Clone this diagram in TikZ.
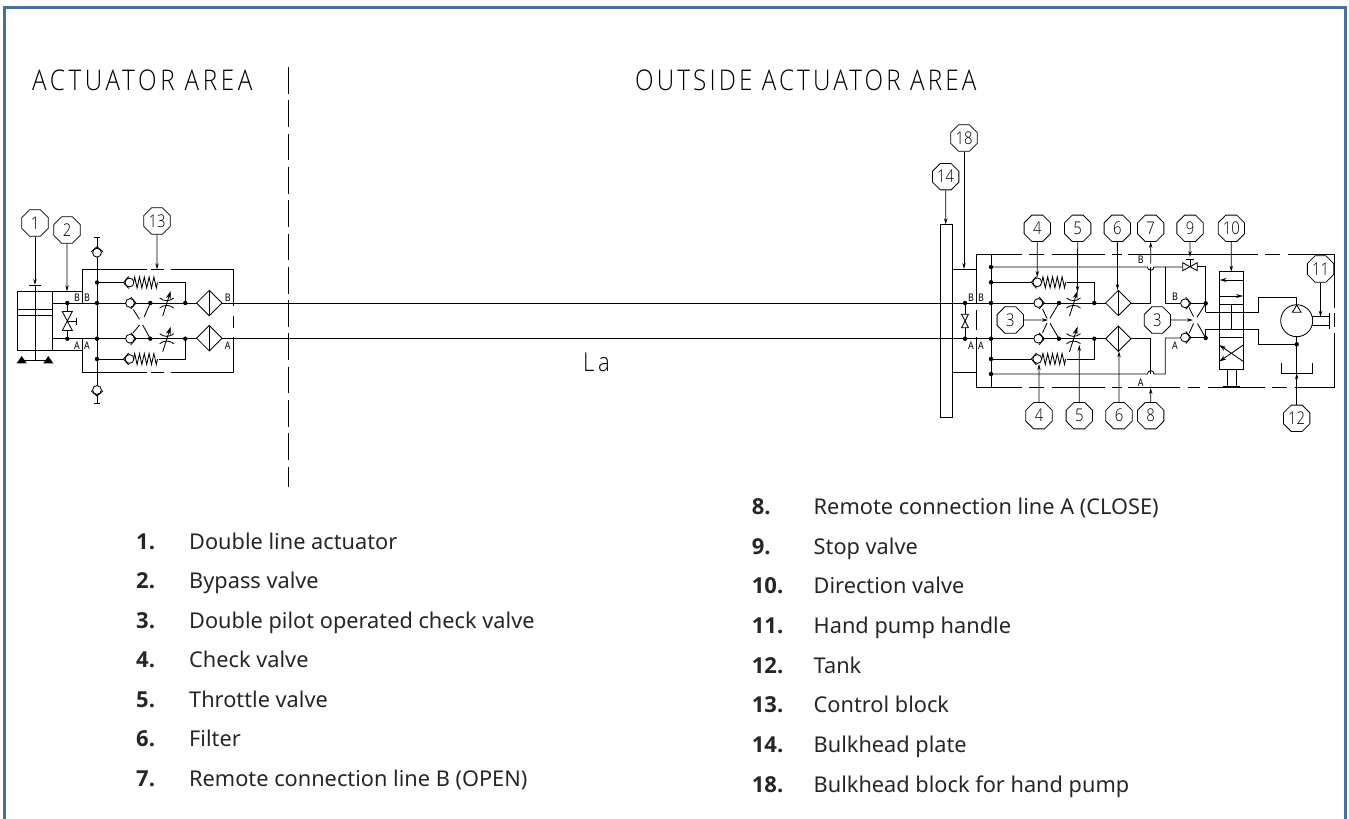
\documentclass[tikz,border=0pt]{standalone}
\usepackage{fontspec}
\setmainfont{Noto Sans}
\newfontfamily\numf{Open Sans}
\newfontfamily\iso[FakeStretch=0.85]{Open Sans Light}
\usetikzlibrary{arrows.meta,shapes.geometric}
\definecolor{frameblue}{HTML}{4A6F9A}
\definecolor{listink}{HTML}{262626}
\tikzset{
  ln/.style={line width=0.85pt,black,line cap=butt},
  lead/.style={line width=0.8pt,black,-{Stealth[length=6pt,width=3.4pt]}},
  ball/.style={regular polygon,regular polygon sides=8,draw,line width=0.8pt,minimum size=28.5pt,inner sep=0pt,fill=white,font=\iso\fontsize{17.5}{17.5}\selectfont},
  tag/.style={font=\addfontfeature{FakeStretch=0.85}\fontsize{10.5}{10.5}\selectfont,inner sep=0pt},
  head/.style={font=\iso\fontsize{28.5}{28.5}\selectfont,anchor=base west,inner sep=0pt},
  item/.style={font=\fontsize{21.75}{24}\selectfont,anchor=base west,inner sep=0pt,text=listink},
  itemnum/.style={font=\numf\bfseries\fontsize{22}{24}\selectfont,anchor=base west,inner sep=0pt,text=listink},
}
\newcommand{\balloon}[4]{\node[ball] (#1) at (#2,#3) {#4};}
\newcommand{\jn}[2]{\fill (#1,#2) circle (2.2pt);}
\newcommand{\chk}[3]{\begin{scope}[shift={(#1,#2)},rotate=#3]
  \draw[ln,fill=white] (0,0) circle (4.4);
  \draw[ln] (0.8,-6) -- (6,0) -- (0.8,6);
\end{scope}}
\newcommand{\spr}[2]{\draw[ln,line join=miter] (#1,#2) -- ++(1.2,-5.5) -- ++(2.4,11) -- ++(2.4,-11) -- ++(2.4,11) -- ++(2.4,-11) -- ++(2.4,11) -- ++(2.4,-11) -- ++(2.4,11) -- ++(2.4,-11) -- ++(2.4,11) -- ++(1.2,-5.5);}
\newcommand{\thr}[2]{\begin{scope}[shift={(#1,#2)}]
  \draw[ln] (-7,-5) .. controls (-3,-1.5) and (3,-1.5) .. (7,-5);
  \draw[ln] (-7,5) .. controls (-3,1.5) and (3,1.5) .. (7,5);
  \draw[ln,-{Stealth[length=8pt,width=5pt]}] (-4,13) -- (4,-12);
\end{scope}}
\newcommand{\flt}[2]{\begin{scope}[shift={(#1,#2)}]
  \draw[ln,fill=white] (-12.7,0) -- (0,-12.7) -- (12.7,0) -- (0,12.7) -- cycle;
  \draw[ln] (0,-12.7) -- (0,12.7);
\end{scope}}
\newcommand{\vbow}[4]{\draw[ln,fill=white] (#1-#4,#2-#3) -- (#1+#4,#2-#3) -- (#1-#4,#2+#3) -- (#1+#4,#2+#3) -- cycle;}
\begin{document}
\begin{tikzpicture}[x=1pt,y=-1pt]
\useasboundingbox (0,0) rectangle (1349,819);
% frame
\draw[line width=3pt,frameblue] (4.5,818.5) -- (4.5,7) -- (1345,7) -- (1345,818.5);
% headings
\node[head] (h1) at (32,90.5) {\addfontfeature{LetterSpace=12.8}ACTUATOR AREA};
\node[head] (h2) at (635,90.5) {\addfontfeature{LetterSpace=11}OUTSIDE ACTUATOR AREA};
\node[head,font=\iso\fontsize{26}{26}\selectfont] (la) at (583,371) {\addfontfeature{LetterSpace=14}La};
\draw[line width=0.9pt,dash pattern=on 26.7pt off 6.6pt] (288.3,67) -- (288.3,487);
% main lines
\draw[ln] (52.7,303) -- (1105.6,303);
\draw[ln] (52.7,338.7) -- (1105.6,338.7);

%%% LEFT: actuator
\draw[ln] (17.3,291.3) rectangle (52.7,350.3);
\draw[ln] (17.3,309) -- (52.7,309) (17.3,315) -- (52.7,315);
\draw[ln] (35,285) -- (35,360) (29,285) -- (41,285);
\fill (16.7,363.3) -- (21.7,356) -- (26.7,363.3) -- cycle;
\fill (43.3,363.3) -- (48.3,356) -- (53.3,363.3) -- cycle;
\draw[ln] (21.7,360) -- (48.3,360);
\draw[ln] (52.7,291.3) -- (82.3,291.3) (52.7,350.3) -- (82.3,350.3);
% bypass
\draw[ln] (67.3,303) -- (67.3,338.7);
\vbow{67.3}{321}{9.5}{5}
\draw[ln] (67.3,321) -- (76.7,321) (76.7,317.5) -- (76.7,324.5);
\jn{67.3}{303}\jn{67.3}{338.7}
% control block
\draw[ln] (146.7,269.3) -- (82.3,269.3) -- (82.3,304);
\draw[ln] (82.3,337.7) -- (82.3,372.3) -- (146.7,372.3);
\draw[ln] (150.7,269.3) -- (164,269.3) (170.7,269.3) -- (233.3,269.3) -- (233.3,306);
\draw[ln] (150.7,372.3) -- (164,372.3) (170.7,372.3) -- (233.3,372.3) -- (233.3,337);
\draw[ln] (233.3,316) -- (233.3,328);
% pilot checks
\draw[ln] (97,237.7) -- (97,403) (94,237.7) -- (100,237.7) (94,403) -- (100,403);
\chk{97}{252.7}{90}
\chk{97}{390}{-90}
\jn{97}{282.5}\jn{97}{303}\jn{97}{338.7}\jn{97}{359}
\draw[ln] (97,282.5) -- (123.5,282.5);
\chk{129.5}{282.5}{180}\spr{133.5}{282.5}
\draw[ln] (158.5,282.5) -- (185.3,282.5) -- (185.3,303);
\draw[ln] (97,359) -- (123.5,359);
\chk{129.5}{359}{180}\spr{133.5}{359}
\draw[ln] (158.5,359) -- (185.3,359) -- (185.3,338.7);
\chk{130}{303}{0}\chk{130}{338.7}{0}
\jn{150.3}{303}\jn{150.3}{338.7}\jn{185.3}{303}\jn{185.3}{338.7}
\draw[ln] (133.3,309.5) -- (139.5,319.3) (150.3,303) -- (144,317.3);
\draw[ln] (133,333) -- (139.5,325) (150.3,338.7) -- (142.7,325);
\thr{166.7}{303}\thr{166.7}{338.7}
\flt{209.3}{303}\flt{209.3}{338.2}
\node[tag] (bl1) at (77,297.5) {B};
\node[tag] (bl2) at (87,297.5) {B};
\node[tag] (al1) at (77,345.5) {A};
\node[tag] (al2) at (87,345.5) {A};
\node[tag] (bl3) at (227.7,297.5) {B};
\node[tag] (al3) at (227.7,345.5) {A};

%%% RIGHT: bulkhead
\draw[ln,fill=white] (940,224.3) rectangle (952.7,417.3);
\draw[ln] (940,303) -- (952.7,303) (940,338.7) -- (952.7,338.7);
\draw[ln] (952.7,269) -- (976,269) (952.7,372.3) -- (976,372.3);
\draw[ln] (965,303) -- (965,338.7);
\vbow{965}{321}{6.7}{3.4}
\jn{965}{303}\jn{965}{338.7}
\draw[ln] (1022,254.3) -- (976,254.3) -- (976,303);
\draw[ln] (976,310) -- (976,330);
\draw[ln] (976,336.7) -- (976,387.3) -- (1022,387.3);
\draw[ln] (1029,254.3) -- (1044,254.3) (1052,254.3) -- (1105,254.3) (1112,254.3) -- (1122,254.3) (1128,254.3) -- (1258,254.3) (1265,254.3) -- (1280,254.3);
\draw[ln] (1288,254.3) -- (1334.3,254.3) -- (1334.3,308);
\draw[ln] (1334.3,313) -- (1334.3,327);
\draw[ln] (1334.3,333) -- (1334.3,387.3) -- (1295,387.3);
\draw[ln] (1029,387.3) -- (1044,387.3) (1052,387.3) -- (1105,387.3) (1112,387.3) -- (1122,387.3) (1128,387.3) -- (1180,387.3) (1188,387.3) -- (1200,387.3) (1208,387.3) -- (1265,387.3) (1272,387.3) -- (1287,387.3);
\draw[ln] (991,254.3) -- (991,387.3);
\jn{991}{267}\jn{991}{282.3}\jn{991}{303}\jn{991}{338.7}\jn{991}{359}\jn{991}{374}
% line B with hump
\draw[ln] (991,267) -- (1147.4,267) arc[start angle=180,end angle=0,radius=3.3] -- (1165.3,267) -- (1182.7,267);
\draw[ln] (1165.3,267) -- (1165.3,303) -- (1180,303);
\draw[ln] (1118,303) -- (1150.7,303) -- (1150.7,267);
% line A with hump
\draw[ln] (991,374) -- (1147.4,374) arc[start angle=180,end angle=360,radius=3.3] -- (1165.3,374) -- (1165.3,338) -- (1180,338);
\draw[ln] (1118,338.7) -- (1150.7,338.7) -- (1150.7,374);
% stop valve
\draw[ln,fill=white] (1182.7,262.7) -- (1182.7,270.7) -- (1197.3,262.7) -- (1197.3,270.7) -- cycle;
\draw[ln] (1190,266.7) -- (1190,259) (1186.3,259) -- (1193.7,259);
\draw[ln] (1197.3,266.7) -- (1205.7,266.7) -- (1205.7,312.3);
\draw[ln] (1205.7,329) -- (1205.7,338.2);
% check springs right
\draw[ln] (991,282.3) -- (1031,282.3);
\chk{1037.3}{282.3}{180}\spr{1041.7}{282.3}
\draw[ln] (1066.7,282.3) -- (1094.3,282.3) -- (1094.3,303);
\draw[ln] (991,359) -- (1031,359);
\chk{1037.3}{359}{180}\spr{1041.7}{359}
\draw[ln] (1066.7,359) -- (1094.3,359) -- (1094.3,338.7);
\chk{1038.3}{303}{0}\chk{1038.3}{338.7}{0}
\jn{1059}{303}\jn{1059}{338.7}\jn{1094.3}{303}\jn{1094.3}{338.7}
\draw[ln] (1042.5,309) -- (1047,318.5) (1059,303) -- (1050,318.3);
\draw[ln] (1042.5,333) -- (1047,323) (1059,338.7) -- (1050,323.3);
\thr{1073.5}{303}\thr{1073.5}{338.7}
\flt{1118.3}{303}\flt{1118.3}{338.7}
% second double check
\chk{1185}{303.3}{0}\chk{1185}{337.5}{0}
\draw[ln] (1191,303.3) -- (1205.7,303.3) (1191,337.7) -- (1205.7,337.7);
\jn{1205.7}{303.3}\jn{1205.7}{338}
\draw[ln] (1189,307.5) -- (1193.5,316.5) (1205.7,303.3) -- (1197,317.3);
\draw[ln] (1189,333.5) -- (1193.5,323.5) (1205.7,338) -- (1197.5,323.5);
% direction valve
\draw[ln,fill=white] (1219,271.7) rectangle (1243.3,369.3);
\draw[ln] (1219,304.3) -- (1243.3,304.3) (1219,337.3) -- (1243.3,337.3);
\draw[ln,-{Stealth[length=7pt,width=4pt]}] (1243.3,280) -- (1219.5,280);
\draw[ln,-{Stealth[length=7pt,width=4pt]}] (1219,296) -- (1243,296);
\draw[ln] (1231.3,304.3) -- (1231.3,329);
\draw[ln,-{Stealth[length=7pt,width=4.5pt]}] (1243.3,345) -- (1219.3,361.5);
\draw[ln,-{Stealth[length=7pt,width=4.5pt]}] (1243.3,361.5) -- (1219.3,345);
\draw[ln] (1227.3,369.3) -- (1227.3,386) (1236,369.3) -- (1236,386);
\draw[line width=1.3pt] (1223,386.2) -- (1240,386.2);
% ports to pump
\draw[ln] (1205.7,312.3) -- (1258.3,312.3) -- (1258.3,297.3) -- (1296.7,297.3) -- (1296.7,305);
\draw[ln] (1205.7,329) -- (1258.3,329) -- (1258.3,344.3) -- (1296.7,344.3);
\draw[ln] (1296.7,336.7) -- (1296.7,373.3);
\jn{1296.7}{344.3}
% pump
\draw[ln,fill=white] (1296.7,320.7) circle (16);
\draw[ln] (1296.7,305) -- (1301,312.3) -- (1292.4,312.3) -- cycle;
\draw[ln] (1312.3,316.7) -- (1329,316.7) (1312.3,325.7) -- (1329,325.7);
\draw[ln] (1329,313.3) -- (1329,329);
% tank
\draw[ln] (1281.7,363.3) -- (1281.7,373.3) -- (1312.3,373.3) -- (1312.3,363.3);
% tags
\node[tag] (br1) at (971,297.5) {B};
\node[tag] (br2) at (981,297.5) {B};
\node[tag] (ar1) at (971,345.5) {A};
\node[tag] (ar2) at (981,345.5) {A};
\node[tag] (br3) at (1140.7,259.5) {B};
\node[tag] (ar3) at (1140.7,382.7) {A};
\node[tag] (br4) at (1175,296.7) {B};
\node[tag] (ar4) at (1175,345.5) {A};

%%% balloons and leaders
\balloon{b1}{35}{223}{1}
\balloon{b2}{67}{230}{2}
\balloon{b13}{157}{221}{13}
\balloon{b3a}{1010.3}{320}{3}
\balloon{b3b}{1157.3}{320}{3}
\balloon{b4a}{1037.3}{228.3}{4}
\balloon{b4b}{1039}{415.7}{4}
\balloon{b5a}{1077.7}{228.3}{5}
\balloon{b5b}{1079.3}{415.7}{5}
\balloon{b6a}{1117.3}{228.3}{6}
\balloon{b6b}{1119}{415.7}{6}
\balloon{b7}{1150.7}{228.3}{7}
\balloon{b8}{1150.7}{415.7}{8}
\balloon{b9}{1190}{228.3}{9}
\balloon{b10}{1231.3}{228.3}{10}
\balloon{b11}{1320.5}{269}{11}
\balloon{b12}{1296.7}{418.3}{12}
\balloon{b14}{945.7}{176.7}{14}
\balloon{b18}{964}{138}{18}
\coordinate (t1) at (35,285);
\coordinate (t2) at (67,291.3);
\coordinate (t13) at (157,269.3);
\coordinate (t3a) at (1048,320);
\coordinate (t3b) at (1193,320);
\coordinate (t4a) at (1037.3,277);
\coordinate (t4b) at (1039,364);
\coordinate (t5a) at (1077.5,292);
\coordinate (t5b) at (1079.3,345);
\coordinate (t6a) at (1117.5,290);
\coordinate (t6b) at (1119,351.4);
\coordinate (t7) at (1150.7,263.7);
\coordinate (t8) at (1150.7,388);
\coordinate (t9) at (1190,257);
\coordinate (t10) at (1231.3,271.7);
\coordinate (t11) at (1320.5,316.7);
\coordinate (t12) at (1296.7,373.3);
\coordinate (t14) at (945.7,224.3);
\coordinate (t18) at (964,269);
\foreach \n in {1,2,13,3a,3b,4a,4b,5a,5b,6a,6b,8,9,10,11,12,14,18}{\draw[lead] (b\n) -- (t\n);}
\draw[lead] (t7) -- (b7);

%%% list
\newcommand{\litem}[5]{\node[itemnum] (n#1) at (#2,#4) {#1.}; \node[item] (i#1) at (#3,#4) {#5};}
\litem{1}{136}{189}{549}{Double line actuator}
\litem{2}{136}{189}{588.5}{Bypass valve}
\litem{3}{136}{189}{628}{Double pilot operated check valve}
\litem{4}{136}{189}{667.5}{Check valve}
\litem{5}{136}{189}{707}{Throttle valve}
\litem{6}{136}{189}{746.7}{Filter}
\litem{7}{136}{189}{786.5}{Remote connection line B (OPEN)}
\litem{8}{751.7}{813.5}{514.3}{Remote connection line A (CLOSE)}
\litem{9}{751.7}{813.5}{554}{Stop valve}
\litem{10}{751.7}{813.5}{593.7}{Direction valve}
\litem{11}{751.7}{813.5}{633.4}{Hand pump handle}
\litem{12}{751.7}{813.5}{673}{Tank}
\litem{13}{751.7}{813.5}{712.8}{Control block}
\litem{14}{751.7}{813.5}{752.5}{Bulkhead plate}
\litem{18}{751.7}{813.5}{792.2}{Bulkhead block for hand pump}
\end{tikzpicture}
\end{document}
